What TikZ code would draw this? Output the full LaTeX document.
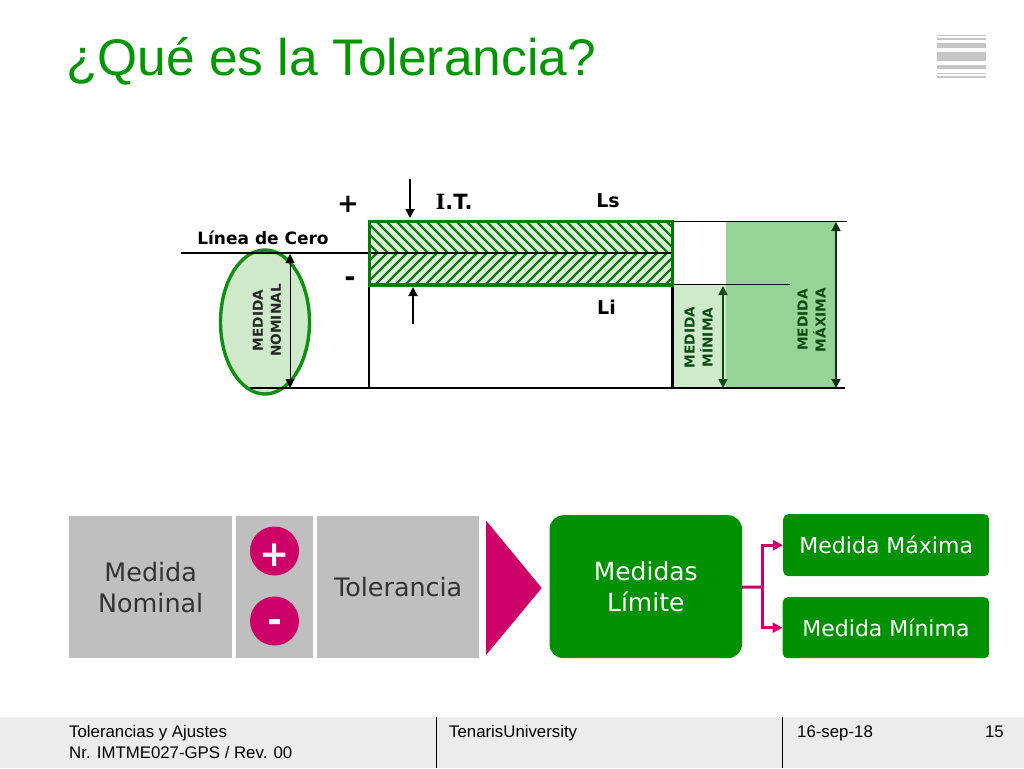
\documentclass[tikz,border=0pt]{standalone}
\usepackage{fontspec}
\setmainfont{DejaVu Sans}
\newfontfamily\arialf{Liberation Sans}
\newfontfamily\serifb{DejaVu Serif}
\usetikzlibrary{arrows.meta,shapes.geometric}
\definecolor{tgreen}{HTML}{009600}
\definecolor{boxgreen}{HTML}{009100}
\definecolor{ringgreen}{HTML}{0F8F0F}
\definecolor{lightg}{HTML}{CFE9CB}
\definecolor{hatchfill}{HTML}{DDF3D9}
\definecolor{hatchline}{HTML}{0B7A0B}
\definecolor{midg}{HTML}{96D396}
\definecolor{magenta1}{HTML}{CC0066}
\definecolor{greybox}{HTML}{BFBFBF}
\definecolor{darktxt}{HTML}{333333}
\definecolor{dkgreen}{HTML}{0B4A12}
\definecolor{foot}{HTML}{ECECEC}
\definecolor{stripe}{HTML}{C6C6C6}
\tikzset{
 greyb/.style={fill=greybox,draw=none,inner sep=0,anchor=north west,align=center,text=darktxt,font=\fontsize{25.4}{31}\selectfont},
 greenb/.style={fill=boxgreen,draw=none,inner sep=0,align=center,text=white},
 dot/.style={circle,fill=magenta1,draw=none,minimum size=49pt,inner sep=0},
 dottxt/.style={inner sep=0,text=white,font=\fontsize{36}{36}\selectfont\bfseries},
 flow/.style={draw=magenta1,line width=3pt,-{Triangle[length=10pt,width=10pt]}},
 dim/.style={line width=1.4pt,{Triangle[length=9pt,width=9pt]}-{Triangle[length=9pt,width=9pt]}},
 itarrow/.style={line width=1.8pt,-{Triangle[length=9pt,width=9pt]}},
 lab/.style={inner sep=0,font=\fontsize{17}{17}\selectfont\bfseries},
 vlab/.style={inner sep=0,rotate=90,align=center,font=\fontsize{13.7}{18}\selectfont\bfseries},
 footxt/.style={inner sep=0,anchor=base west,font=\arialf\fontsize{16.8}{20}\selectfont},
 hatchl/.style={draw=hatchline,line width=2.4pt},
}
\begin{document}
\begin{tikzpicture}[x=1pt,y=-1pt]
\useasboundingbox (0,0) rectangle (1024,768);
\fill[white] (0,0) rectangle (1024,768);
% title
\node[inner sep=0,anchor=base west,text=tgreen,font=\arialf\fontsize{51.5}{52}\selectfont] (title) at (66,75) {¿Qué es la Tolerancia?};
% icon
\foreach \a/\b in {34.7/36.2,38/40,43.5/48,52.5/61,64.7/69.3,72.7/74.3,76.3/78.3}
  \fill[stripe] (937,\a) rectangle (986,\b);
% background fills
\fill[lightg] (673,285) rectangle (726,388);
\fill[midg] (726,222) rectangle (836,388);
% ellipse
\node[ellipse,draw=ringgreen,fill=lightg,line width=3.4pt,minimum width=89pt,minimum height=144pt,inner sep=0] (ell) at (265,322) {};
% lines
\coordinate (z0) at (181,253);
\coordinate (bl) at (250,388);
\coordinate (br) at (845,388);
\coordinate (tl) at (673,221.5);
\coordinate (tr) at (847,221.5);
\coordinate (ml) at (673,284.5);
\coordinate (mr) at (790,284.5);
\coordinate (rl) at (369.2,285);
\coordinate (rb) at (369.2,388);
\coordinate (rr) at (672.5,285);
\coordinate (rs) at (672.5,388);
\draw[line width=1.3pt] (z0) -- (369,253);
\draw[line width=2pt] (bl) -- (br);
\draw[line width=1.4pt] (tl) -- (tr);
\draw[line width=1.4pt] (ml) -- (mr);
\draw[line width=2.4pt] (rl) -- (rb);
\draw[line width=2.2pt] (rr) -- (rs);
% hatching
\node[fill=hatchfill,draw=none,minimum width=303pt,minimum height=32pt,inner sep=0,anchor=north west] (upper) at (369.5,221.5) {};
\node[fill=hatchfill,draw=none,minimum width=303pt,minimum height=32pt,inner sep=0,anchor=north west] (lower) at (369.5,253) {};
\begin{scope}
\clip (369.5,221.5) rectangle (672.5,253);
\foreach \i in {0,...,36} \draw[hatchl] ({330+\i*10},215) -- ({375+\i*10},260);
\end{scope}
\begin{scope}
\clip (369.5,253) rectangle (672.5,285);
\foreach \i in {0,...,36} \draw[hatchl] ({330+\i*10},290) -- ({375+\i*10},245);
\end{scope}
\draw[line width=1.5pt] (369.5,253) -- (672.5,253);
\draw[draw=boxgreen!85!black,line width=3.8pt] (369.5,221.5) rectangle (672.5,285);
% arrows
\coordinate (it1) at (410,179);
\coordinate (it1e) at (410,218);
\coordinate (it2) at (413,324);
\coordinate (it2e) at (413,287);
\draw[itarrow] (it1) -- (it1e);
\draw[itarrow] (it2) -- (it2e);
\coordinate (a1) at (290,254);\coordinate (a2) at (290,388);
\draw[dim,line width=1pt,draw=black] (a1) -- (a2);
\coordinate (b1) at (723,286);\coordinate (b2) at (723,388);
\draw[dim,draw=dkgreen] (b1) -- (b2);
\coordinate (c1) at (836,222);\coordinate (c2) at (836,388);
\draw[dim,draw=dkgreen!70!black] (c1) -- (c2);
% labels
\node[inner sep=0,font=\fontsize{26}{26}\selectfont\bfseries] (pl) at (348,204) {+};
\node[inner sep=0,font=\fontsize{27}{27}\selectfont\bfseries] (mi) at (350,282) {-};
\node[lab,font=\fontsize{21}{21}\selectfont\bfseries] (it) at (454,202) {{\serifb\bfseries I}.T.};
\node[lab,font=\fontsize{19}{19}\selectfont\bfseries] (ls) at (608,201) {Ls};
\node[lab,font=\fontsize{19}{19}\selectfont\bfseries] (li) at (606.5,307) {Li};
\node[lab] (ldc) at (263,238) {Línea de Cero};
\node[vlab,text=black!85] (mn) at (267,320.5) {MEDIDA\\NOMINAL};
\node[vlab,text=dkgreen] (mmi) at (698.5,337.5) {MEDIDA\\MÍNIMA};
\node[vlab,text=dkgreen] (mma) at (811.5,320) {MEDIDA\\MÁXIMA};
% bottom flow
\node[greyb,minimum width=163pt,minimum height=142pt] (nom) at (69,516) {Medida\\Nominal};
\node[greyb,minimum width=77pt,minimum height=142pt] (pm) at (236,516) {};
\node[greyb,minimum width=162pt,minimum height=142pt] (tol) at (317,516) {Tolerancia};
\node[dot] (dp) at (274.5,551) {};
\node[dot] (dm) at (274.5,621) {};
\node[dottxt] (dpt) at (274.5,555) {+};
\node[dottxt] (dmt) at (274.5,626.5) {-};
\fill[magenta1] (486,520.5) -- (541.7,588) -- (486,655) -- cycle;
\node[greenb,rounded corners=14pt,minimum width=192.5pt,minimum height=143pt,anchor=north west,font=\fontsize{25}{31}\selectfont] (lim) at (549.3,515) {Medidas\\Límite};
\node[greenb,rounded corners=5pt,minimum width=206pt,minimum height=62pt,anchor=north west,font=\fontsize{22}{26}\selectfont] (max) at (783,514) {Medida Máxima};
\node[greenb,rounded corners=5pt,minimum width=206.5pt,minimum height=61pt,anchor=north west,font=\fontsize{22}{26}\selectfont] (min) at (782.5,597) {Medida Mínima};
\coordinate (j) at (762,587);
\draw[magenta1,line width=3pt] (lim.east) ++(0,0.5) -- (j);
\draw[flow] (j) |- (max.west);
\draw[flow] (j) |- (min.west);
% footer
\fill[foot] (0,717) rectangle (1024,768);
\coordinate (f1) at (436,717);\coordinate (f1e) at (436,768);
\coordinate (f2) at (782,717);\coordinate (f2e) at (782,768);
\draw[line width=0.9pt] (f1) -- (f1e);
\draw[line width=0.9pt] (f2) -- (f2e);
\node[footxt] (ft1) at (69,737.5) {Tolerancias y Ajustes};
\node[footxt] (ft2) at (69,758) {Nr. IMTME027-GPS / Rev. 00};
\node[footxt] (ft3) at (449,737) {TenarisUniversity};
\node[footxt] (ft4) at (797,737) {16-sep-18};
\node[footxt,anchor=base east] (ft5) at (1004,737) {15};
\end{tikzpicture}
\end{document}
